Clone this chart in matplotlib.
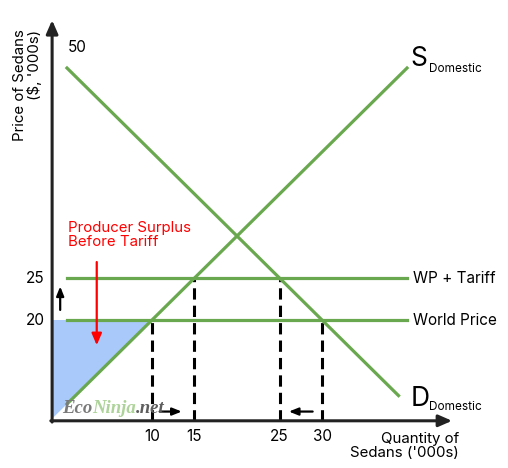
import matplotlib.pyplot as plt

plt.rcParams['font.family'] = ['Inter', 'DejaVu Sans']

# curves (quantity in '000s, price in $'000s)
demand_q = [0, 39]
demand_p = [50, 11]
supply_q = [0, 40]
supply_p = [10, 50]
world_price = 20
tariff_price = 25
line_q = [0, 40]

# quantities where the price lines meet the curves
drop_q = [10, 15, 25, 30]
drop_p = [20, 25, 25, 20]
x_ticks = [10, 15, 25, 30]
y_ticks = [20, 25]

green = '#6aa84f'
blue = '#a9c9fa'
dark = '#222222'

fig = plt.figure(figsize=(5.08, 4.68), dpi=100)
ax = fig.add_axes([0, 0, 1, 1])
ax.set_xlim(-7.88, 51.88)
ax.set_ylim(2.38, 58.1)
ax.axis('off')

x0, y0 = -1.75, 8.0

# producer surplus area: left of supply, below world price
ax.fill([x0, 10, x0], [world_price, world_price, x0 + 10], color=blue, zorder=1, lw=0)

# supply, demand, price lines
ax.plot(demand_q, demand_p, color=green, lw=2.3, zorder=3)
ax.plot(supply_q, supply_p, color=green, lw=2.3, zorder=3)
ax.plot(line_q, [world_price] * 2, color=green, lw=2.3, zorder=3)
ax.plot(line_q, [tariff_price] * 2, color=green, lw=2.3, zorder=3)

# dashed drop lines
for q, p in zip(drop_q, drop_p):
    ax.plot([q, q], [y0, p], color='black', lw=2.2, ls=(0, (3.7, 2)), zorder=2)

# axes with arrow heads
ax.annotate('', xy=(x0, 55.7), xytext=(x0, y0 - 0.15),
            arrowprops=dict(arrowstyle='-|>,head_length=0.8,head_width=0.35',
                            color=dark, lw=2.2, shrinkA=0, shrinkB=0), zorder=5)
ax.annotate('', xy=(45.3, y0), xytext=(x0 - 0.15, y0),
            arrowprops=dict(arrowstyle='-|>,head_length=0.8,head_width=0.35',
                            color=dark, lw=2.2, shrinkA=0, shrinkB=0), zorder=5)

# tick labels
for q in x_ticks:
    ax.text(q, 6.1, str(q), ha='center', va='center', fontsize=11, color='black')
for p in y_ticks:
    ax.text(-2.6, p, str(p), ha='right', va='center', fontsize=11, color='black')
ax.text(0.1, 52.5, '50', ha='left', va='center', fontsize=11, color='black')

# axis titles
ax.text(-4.7, 54.6, "Price of Sedans\n($, '000s)", rotation=90, ha='center', va='top',
        multialignment='right', fontsize=10.8, linespacing=1.0)
ax.text(46.1, 6.7, "Quantity of\nSedans ('000s)", ha='right', va='top',
        multialignment='right', fontsize=10.8, linespacing=1.0)

# curve labels
ax.text(40.4, 51.1, 'S', fontsize=19, ha='left', va='center')
ax.text(42.6, 49.9, 'Domestic', fontsize=8.5, ha='left', va='center')
ax.text(40.4, 10.6, 'D', fontsize=19, ha='left', va='center')
ax.text(42.6, 9.6, 'Domestic', fontsize=8.5, ha='left', va='center')
ax.text(40.7, tariff_price, 'WP + Tariff', fontsize=11, ha='left', va='center')
ax.text(40.7, world_price, 'World Price', fontsize=11, ha='left', va='center')

# producer surplus annotation
ax.text(0.1, 30.1, 'Producer Surplus\nBefore Tariff', color='red', fontsize=10.8,
        ha='left', va='center', linespacing=1.0)
ax.annotate('', xy=(3.5, 17.0), xytext=(3.5, 26.9),
            arrowprops=dict(arrowstyle='-|>,head_length=0.7,head_width=0.3',
                            color='red', lw=1.6, shrinkA=0, shrinkB=0))

# small movement arrows
arrow = dict(arrowstyle='-|>,head_length=0.55,head_width=0.22', color='black', lw=1.6,
             shrinkA=0, shrinkB=0)
ax.annotate('', xy=(-0.8, 24.0), xytext=(-0.8, 21.2), arrowprops=arrow)
ax.annotate('', xy=(13.5, 9.1), xytext=(10.9, 9.1), arrowprops=arrow)
ax.annotate('', xy=(26.1, 9.1), xytext=(28.9, 9.1), arrowprops=arrow)

# watermark
wm = dict(fontsize=13.5, family='Liberation Serif', weight='bold', style='italic',
          va='center', ha='left', zorder=6)
t1 = ax.text(-0.6, 9.5, 'Eco', color='#7a7a7a', **wm)
t2 = ax.annotate('Ninja', xy=(1, 0.5), xycoords=t1, color='#aed39a', **wm)
ax.annotate('.net', xy=(1, 0.5), xycoords=t2, color='#5e5e5e', **wm)

fig.savefig('out.png', dpi=100)
